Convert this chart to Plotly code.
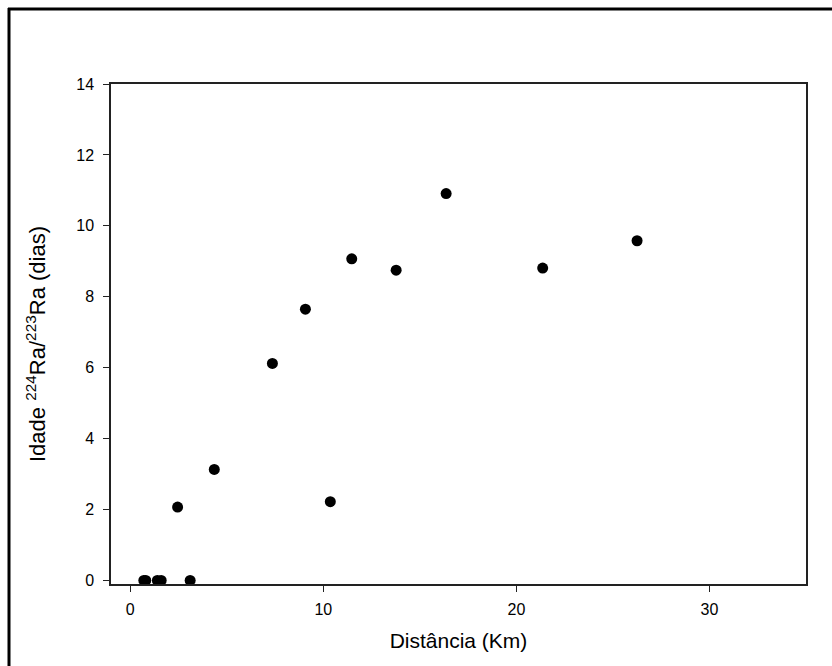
import plotly.graph_objects as go

# Distance from source (km) and 224Ra/223Ra apparent age (days)
distancia_km = [0.7, 0.8, 1.4, 1.6, 3.1, 2.45, 4.35, 7.36, 9.07, 10.36,
                11.47, 13.77, 16.36, 21.36, 26.25]
idade_dias = [0.0, 0.0, 0.0, 0.0, 0.0, 2.07, 3.13, 6.12, 7.65, 2.22,
              9.07, 8.75, 10.91, 8.81, 9.58]

x_ticks = [0, 10, 20, 30]
y_ticks = [0, 2, 4, 6, 8, 10, 12, 14]

W, H = 832, 666
ml, mr, mt, mb = 111, 26, 84, 82
pw, ph = W - ml - mr, H - mt - mb

font_family = "Arial, Liberation Sans, sans-serif"

fig = go.Figure()
fig.add_trace(go.Scatter(
    x=distancia_km, y=idade_dias, mode="markers",
    marker=dict(color="black", size=11, line=dict(width=0)),
    showlegend=False, cliponaxis=False,
))

axis_common = dict(
    showline=True, linecolor="#222222", linewidth=1.5, mirror=True,
    ticks="outside", ticklen=6, tickwidth=1.2, tickcolor="#222222",
    showgrid=False, zeroline=False,
    tickfont=dict(family=font_family, size=16, color="black"),
)

fig.update_layout(
    width=W, height=H,
    margin=dict(l=ml, r=mr, t=mt, b=mb),
    paper_bgcolor="white", plot_bgcolor="white",
    font=dict(family=font_family, color="black"),
    xaxis=dict(
        range=[-1, 35], tickvals=x_ticks, ticktext=[str(v) for v in x_ticks],
        title=dict(text="Distância (Km)", font=dict(size=21, family=font_family), standoff=16),
        ticklabelstandoff=4,
        **axis_common,
    ),
    yaxis=dict(
        range=[-0.1, 14], tickvals=y_ticks, ticktext=[str(v) for v in y_ticks],
        ticklabelstandoff=6,
        **axis_common,
    ),
    annotations=[
        # y-axis title, set slightly below the plot's vertical centre
        dict(text="Idade <sup>224</sup>Ra/<sup>223</sup>Ra (dias)",
             textangle=-90, showarrow=False,
             xref="paper", yref="paper",
             x=(36 - ml) / pw, y=1 - (344 - mt) / ph,
             xanchor="center", yanchor="middle",
             font=dict(size=22, family=font_family, color="black")),
    ],
    shapes=[
        # outer frame: top and left edges
        dict(type="line", xref="paper", yref="paper",
             x0=(8 - ml) / pw, x1=(W + 10 - ml) / pw,
             y0=1 + (mt - 9) / ph, y1=1 + (mt - 9) / ph,
             line=dict(color="black", width=3)),
        dict(type="line", xref="paper", yref="paper",
             x0=(9 - ml) / pw, x1=(9 - ml) / pw,
             y0=1 + (mt - 8) / ph, y1=-(mb + 10) / ph,
             line=dict(color="black", width=3)),
    ],
)

fig.write_html("out.html")
